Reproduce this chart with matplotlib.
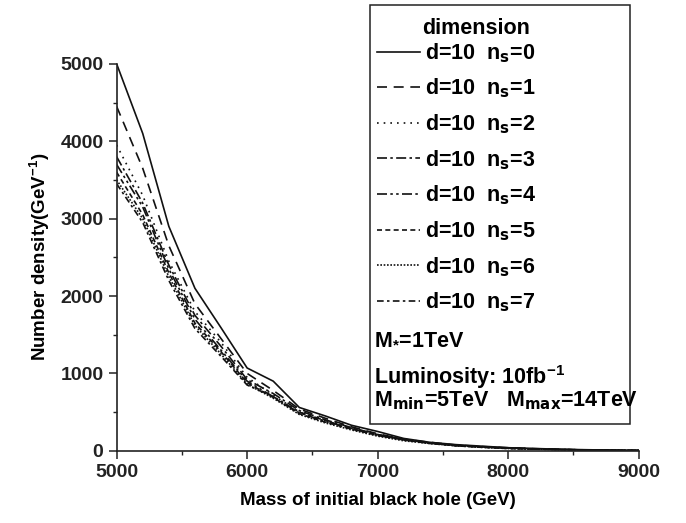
import matplotlib

matplotlib.use("Agg")

import matplotlib.pyplot as plt
from matplotlib.patches import Rectangle

plt.rcParams["font.family"] = ["Liberation Sans", "DejaVu Sans"]
plt.rcParams["font.weight"] = "bold"
plt.rcParams["mathtext.fontset"] = "custom"
plt.rcParams["mathtext.rm"] = "Liberation Sans:bold"
plt.rcParams["mathtext.it"] = "Liberation Sans:bold"
plt.rcParams["mathtext.bf"] = "Liberation Sans:bold"

mass = [5000, 5200, 5400, 5600, 5800, 6000, 6200, 6400, 6600, 6800, 7000,
        7200, 7400, 7600, 7800, 8000, 8200, 8400, 8600, 8800, 9000]

ns0 = [5000, 4100, 2900, 2100, 1590, 1070, 900, 560, 450, 330, 250, 160, 110, 80, 60, 40, 30, 20, 14, 9, 5]
ns1 = [4450, 3650, 2650, 1900, 1450, 1000, 780, 540, 420, 310, 220, 150, 110, 75, 55, 40, 28, 18, 12, 8, 5]
ns2 = [3950, 3300, 2450, 1800, 1400, 950, 720, 500, 380, 280, 200, 140, 100, 70, 50, 35, 25, 17, 11, 7, 4]
ns3 = [3800, 3200, 2400, 1750, 1350, 920, 740, 520, 400, 300, 210, 150, 100, 70, 50, 35, 25, 17, 11, 7, 4]
ns4 = [3700, 3150, 2350, 1700, 1300, 900, 700, 490, 380, 290, 200, 140, 100, 70, 50, 35, 25, 17, 11, 7, 4]
ns5 = [3600, 3050, 2300, 1650, 1280, 880, 690, 480, 370, 280, 200, 140, 95, 65, 45, 30, 22, 15, 10, 6, 4]
ns6 = [3500, 3000, 2250, 1620, 1250, 860, 680, 470, 360, 270, 190, 130, 95, 65, 45, 30, 22, 15, 10, 6, 4]
ns7 = [3450, 2950, 2200, 1580, 1220, 850, 700, 500, 390, 290, 210, 150, 100, 70, 50, 35, 25, 17, 11, 7, 4]

series = [ns0, ns1, ns2, ns3, ns4, ns5, ns6, ns7]
labels = [r"d=10  n$_{\mathsf{s}}$=%d" % i for i in range(8)]
styles = [
    "-",
    (0, (6, 4)),
    (0, (1, 3)),
    (0, (6, 2, 1.5, 2)),
    (0, (6, 2, 1.5, 2, 1.5, 2)),
    (0, (3, 2)),
    (0, (1, 1)),
    (0, (4, 2, 1.5, 2)),
]

fig = plt.figure(figsize=(6.86, 5.23), dpi=100)
fig.patch.set_facecolor("white")
ax = fig.add_axes([0.170, 0.138, 0.761, 0.740])

handles = []
for y, ls, lab in zip(series, styles, labels):
    (ln,) = ax.plot(mass, y, color="#111111", linestyle=ls, linewidth=1.2, label=lab)
    handles.append(ln)

ax.set_xlim(5000, 9000)
ax.set_ylim(0, 5000)
ax.set_xticks([5000, 6000, 7000, 8000, 9000])
ax.set_xticks([5500, 6500, 7500, 8500], minor=True)
ax.set_yticks([0, 1000, 2000, 3000, 4000, 5000])
ax.set_yticks([500, 1500, 2500, 3500, 4500], minor=True)
ax.spines["top"].set_visible(False)
ax.spines["right"].set_visible(False)
for side in ("left", "bottom"):
    ax.spines[side].set_linewidth(1.2)
    ax.spines[side].set_color("#222222")
ax.tick_params(which="major", direction="out", length=6, width=1.1, labelsize=14, colors="#222222")
ax.tick_params(which="minor", direction="out", length=3, width=1.0, colors="#222222")
ax.set_xlabel("Mass of initial black hole (GeV)", fontsize=13.5, weight="bold", labelpad=8)
ax.set_ylabel(r"Number density(GeV$^{-1}$)", fontsize=13.5, weight="bold", labelpad=6)

# legend box drawn in figure coordinates
box = Rectangle((0.539, 0.189), 0.379, 0.801, transform=fig.transFigure,
                facecolor="white", edgecolor="#222222", linewidth=1.1, zorder=3)
fig.patches.append(box)

fig.text(0.694, 0.945, "dimension", fontsize=15.5, weight="bold", ha="center", va="center", zorder=5)
leg = fig.legend(handles=handles, labels=labels, loc="upper left", bbox_to_anchor=(0.537, 0.938),
                 frameon=False, fontsize=15.5, handlelength=2.0, handletextpad=0.25,
                 labelspacing=0.56, borderaxespad=0.0)
leg.set_zorder(4)

fig.text(0.545, 0.342, r"M$_{*}$=1TeV", fontsize=15.5, weight="bold", va="baseline", zorder=5)
fig.text(0.545, 0.265, r"Luminosity: 10fb$^{-1}$", fontsize=15.5, weight="bold", va="baseline", zorder=5)
fig.text(0.545, 0.222, r"M$_{\mathsf{min}}$=5TeV   M$_{\mathsf{max}}$=14TeV", fontsize=15.5,
         weight="bold", va="baseline", zorder=5)

fig.savefig("out.png", dpi=100, facecolor="white")
